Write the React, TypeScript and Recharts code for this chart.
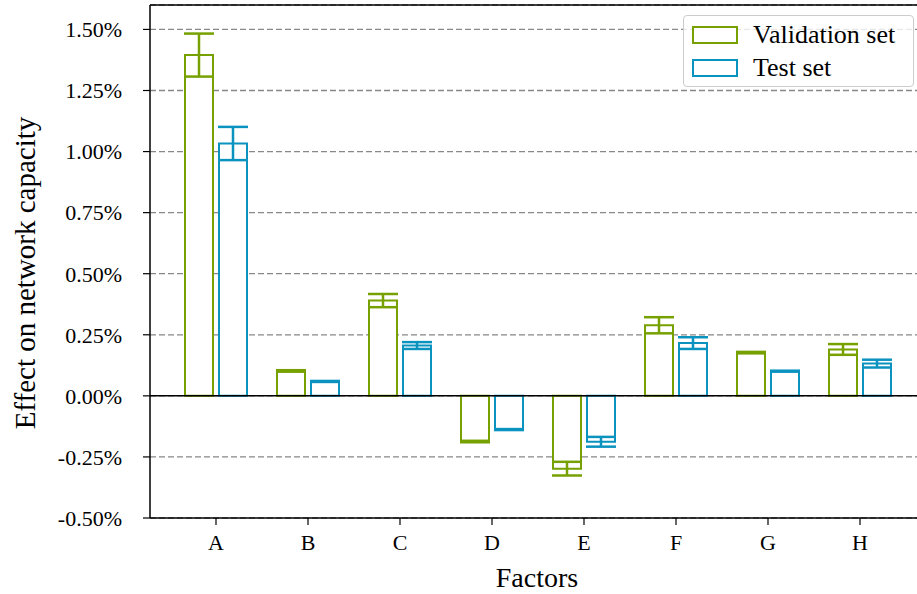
import React from 'react';
import {
  BarChart,
  Bar,
  XAxis,
  YAxis,
  CartesianGrid,
  ReferenceLine,
  ErrorBar,
  Legend,
} from 'recharts';

const categories = ['A', 'B', 'C', 'D', 'E', 'F', 'G', 'H'];
const validationValues = [1.395, 0.102, 0.39, -0.187, -0.298, 0.289, 0.177, 0.19];
const validationErrors = [0.088, 0.003, 0.027, 0.003, 0.028, 0.033, 0.003, 0.022];
const testValues = [1.033, 0.059, 0.206, -0.138, -0.188, 0.216, 0.101, 0.132];
const testErrors = [0.068, 0.002, 0.014, 0.002, 0.02, 0.024, 0.002, 0.016];
const yTicks = [-0.5, -0.25, 0, 0.25, 0.5, 0.75, 1.0, 1.25, 1.5];
const seriesNames = ['Validation set', 'Test set'];

const GREEN = '#76a100';
const BLUE = '#0b93c0';
const FONT = '"Liberation Serif", "Times New Roman", serif';

const data = categories.map((c, i) => ({
  name: c,
  val: validationValues[i],
  valErr: validationErrors[i],
  test: testValues[i],
  testErr: testErrors[i],
}));

const fmt = (v: number) => `${v.toFixed(2)}%`;

const LegendBox = () => (
  <div
    style={{
      width: 229,
      height: 70,
      border: '1px solid #cccccc',
      borderRadius: 4,
      background: 'rgba(255,255,255,0.8)',
      fontFamily: FONT,
      fontSize: 26,
      color: '#000',
      position: 'relative',
      boxSizing: 'content-box',
    }}
  >
    {[GREEN, BLUE].map((col, i) => (
      <div
        key={i}
        style={{
          position: 'absolute',
          left: 8,
          top: 10 + i * 33,
          display: 'flex',
          alignItems: 'center',
          height: 17,
        }}
      >
        <div
          style={{
            width: 42,
            height: 14,
            border: `2px solid ${col}`,
            background: '#fff',
          }}
        />
        <span style={{ marginLeft: 15, lineHeight: '17px', whiteSpace: 'nowrap' }}>
          {seriesNames[i]}
        </span>
      </div>
    ))}
  </div>
);

export default function App() {
  return (
    <div
      style={{
        position: 'absolute',
        left: 0,
        top: 0,
        width: 917,
        height: 594,
        overflow: 'hidden',
        background: '#fff',
      }}
    >
      <BarChart
        width={932}
        height={594}
        data={data}
        margin={{ top: 5, right: 6, bottom: 0, left: 0 }}
        barSize={28}
        barGap={6}
      >
        <CartesianGrid
          vertical={false}
          stroke="#888888"
          strokeDasharray="6 3"
          strokeWidth={1.3}
        />
        <XAxis
          dataKey="name"
          height={76}
          padding={{ left: 20, right: 20 }}
          tickSize={7}
          tickMargin={9}
          tick={{ fontFamily: FONT, fontSize: 22, fill: '#000' }}
          axisLine={{ stroke: '#000', strokeWidth: 1.5 }}
          tickLine={{ stroke: '#000', strokeWidth: 1.2 }}
          label={{
            content: () => (
              <text
                x={537}
                y={587}
                textAnchor="middle"
                fontFamily={FONT}
                fontSize={28}
                fill="#000"
              >
                Factors
              </text>
            ),
          }}
        />
        <YAxis
          width={150}
          domain={[-0.5, 1.6]}
          ticks={yTicks}
          allowDataOverflow
          interval={0}
          tickFormatter={fmt}
          tickSize={7}
          tickMargin={21}
          tick={{ fontFamily: FONT, fontSize: 22, fill: '#000' }}
          axisLine={{ stroke: '#000', strokeWidth: 1.5 }}
          tickLine={{ stroke: '#000', strokeWidth: 1.2 }}
          label={{
            content: () => (
              <text
                x={35}
                y={273}
                transform="rotate(-90 35 273)"
                textAnchor="middle"
                fontFamily={FONT}
                fontSize={29}
                fill="#000"
              >
                Effect on network capacity
              </text>
            ),
          }}
        />
        <ReferenceLine y={1.6} stroke="#000" strokeWidth={1.5} />
        <Legend
          layout="horizontal"
          align="center"
          verticalAlign="middle"
          wrapperStyle={{ left: 683, top: 15, width: 231, height: 72 }}
          content={() => <LegendBox />}
        />
        <Bar
          dataKey="val"
          name={seriesNames[0]}
          fill="#fff"
          stroke={GREEN}
          strokeWidth={2}
          isAnimationActive={false}
        >
          <ErrorBar
            dataKey="valErr"
            direction="y"
            width={15}
            stroke={GREEN}
            strokeWidth={2.5}
            isAnimationActive={false}
          />
        </Bar>
        <Bar
          dataKey="test"
          name={seriesNames[1]}
          fill="#fff"
          stroke={BLUE}
          strokeWidth={2}
          isAnimationActive={false}
        >
          <ErrorBar
            dataKey="testErr"
            direction="y"
            width={15}
            stroke={BLUE}
            strokeWidth={2.5}
            isAnimationActive={false}
          />
        </Bar>
        <ReferenceLine y={0} stroke="#000" strokeWidth={1.5} />
      </BarChart>
    </div>
  );
}
